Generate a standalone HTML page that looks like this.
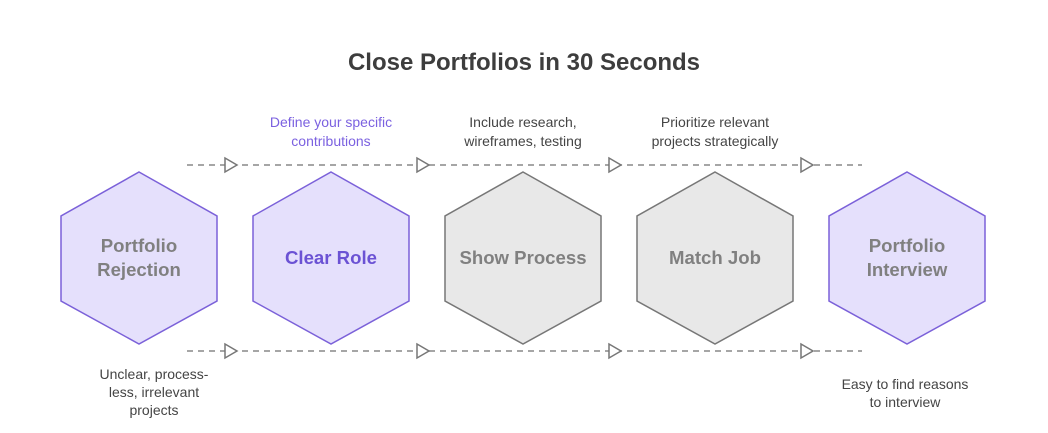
<!DOCTYPE html>
<html><head><meta charset="utf-8"><style>
html,body{margin:0;padding:0;background:#fff;}
</style></head><body>
<svg width="1048" height="428" viewBox="0 0 1048 428" xmlns="http://www.w3.org/2000/svg" font-family="Liberation Sans, sans-serif">
<text x="524" y="70" text-anchor="middle" font-size="24" font-weight="bold" fill="#3d3d3d">Close Portfolios in 30 Seconds</text>
<g stroke="#888" stroke-width="1.5" stroke-dasharray="6,5" fill="none">
<line x1="187" y1="165" x2="862" y2="165"/>
<line x1="187" y1="351" x2="862" y2="351"/>
</g>
<g fill="#fff" stroke="#777" stroke-width="1.5">
<polygon points="225,158 237,165 225,172"/>
<polygon points="417,158 429,165 417,172"/>
<polygon points="609,158 621,165 609,172"/>
<polygon points="801,158 813,165 801,172"/>
<polygon points="225,344 237,351 225,358"/>
<polygon points="417,344 429,351 417,358"/>
<polygon points="609,344 621,351 609,358"/>
<polygon points="801,344 813,351 801,358"/>
</g>
<g stroke-width="1.5">
<polygon points="139,172 217,216 217,301 139,344 61,301 61,216" fill="#e5e0fc" stroke="#7b61d9"/>
<polygon points="331,172 409,216 409,301 331,344 253,301 253,216" fill="#e5e0fc" stroke="#7b61d9"/>
<polygon points="523,172 601,216 601,301 523,344 445,301 445,216" fill="#e8e8e8" stroke="#777"/>
<polygon points="715,172 793,216 793,301 715,344 637,301 637,216" fill="#e8e8e8" stroke="#777"/>
<polygon points="907,172 985,216 985,301 907,344 829,301 829,216" fill="#e5e0fc" stroke="#7b61d9"/>
</g>
<g font-size="18.6" font-weight="bold" text-anchor="middle" fill="#808080">
<text x="139" y="252">Portfolio</text><text x="139" y="276">Rejection</text>
<text x="331" y="264" fill="#6b52d4">Clear Role</text>
<text x="523" y="264">Show Process</text>
<text x="715" y="264">Match Job</text>
<text x="907" y="252">Portfolio</text><text x="907" y="276">Interview</text>
</g>
<g font-size="14" text-anchor="middle" fill="#444">
<text x="331" y="127" fill="#7b61e0">Define your specific</text>
<text x="331" y="146" fill="#7b61e0">contributions</text>
<text x="523" y="127">Include research,</text>
<text x="523" y="146">wireframes, testing</text>
<text x="715" y="127">Prioritize relevant</text>
<text x="715" y="146">projects strategically</text>
<text x="154" y="379">Unclear, process-</text>
<text x="154" y="397">less, irrelevant</text>
<text x="154" y="415">projects</text>
<text x="905" y="389">Easy to find reasons</text>
<text x="905" y="407">to interview</text>
</g>
</svg>
</body></html>
